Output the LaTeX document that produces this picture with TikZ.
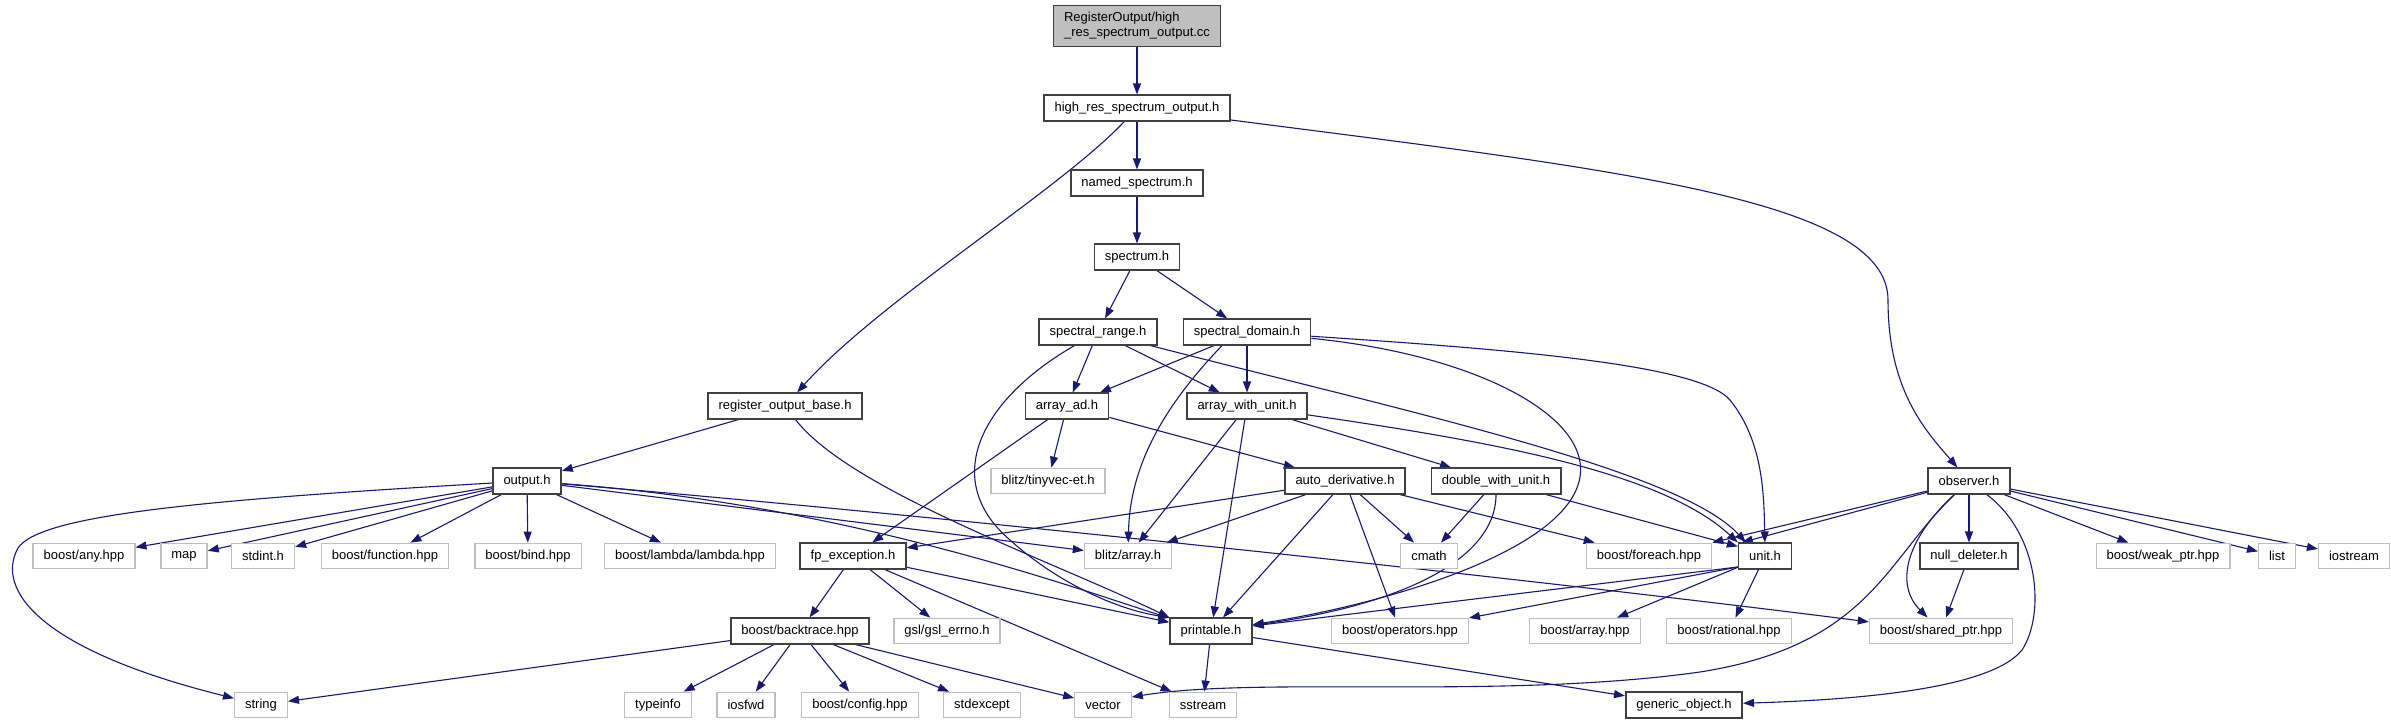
\documentclass[tikz,border=0pt]{standalone}
\usepackage{fontspec}
\setmainfont{Liberation Sans}
\usetikzlibrary{arrows.meta}
\definecolor{edgec}{HTML}{191970}
\definecolor{docb}{HTML}{404040}
\definecolor{extb}{HTML}{BFBFBF}
\definecolor{rootf}{HTML}{BFBFBF}
\pgfdeclarelayer{bg}
\pgfdeclarelayer{paper}
\pgfsetlayers{paper,bg,main}
\begin{document}
\begin{tikzpicture}[x=1pt,y=-1pt,
 basen/.style={rectangle, fill=white, font=\fontsize{13}{15}\selectfont, inner xsep=10.5pt, inner ysep=0pt, minimum height=25.5pt},
 doc/.style={basen, draw=docb, line width=1.6pt},
 ext/.style={basen, draw=extb, line width=1.3pt},
 rootn/.style={basen, draw=docb, line width=1.6pt, fill=rootf, align=left, minimum height=41pt},
 edg/.style={draw=edgec, line width=1.1pt, -{Triangle[length=11pt,width=8pt]}},
]
\useasboundingbox (0,0) rectangle (2391,724);
\begin{pgfonlayer}{paper}
\fill[white] (0,0) rectangle (2391,724);
\end{pgfonlayer}

\node[rootn] (root) at (1137,26) {RegisterOutput/high\\\_res\_spectrum\_output.cc};
\node[doc] (hr) at (1137,108) {high\_res\_spectrum\_output.h};
\node[doc] (ns) at (1137,183) {named\_spectrum.h};
\node[doc] (sp) at (1137,257) {spectrum.h};
\node[doc] (sr) at (1098,332) {spectral\_range.h};
\node[doc] (sd) at (1247,332) {spectral\_domain.h};
\node[doc] (rob) at (785,406) {register\_output\_base.h};
\node[doc] (aad) at (1067,406) {array\_ad.h};
\node[doc] (awu) at (1247,406) {array\_with\_unit.h};
\node[doc] (out) at (527,481) {output.h};
\node[ext] (tv) at (1048,481) {blitz/tinyvec-et.h};
\node[doc] (ad) at (1345,481) {auto\_derivative.h};
\node[doc] (dwu) at (1496,481) {double\_with\_unit.h};
\node[doc] (obs) at (1969,481) {observer.h};
\node[ext] (bany) at (84,556) {boost/any.hpp};
\node[ext] (map) at (184,556) {map};
\node[ext] (stdint) at (263,556) {stdint.h};
\node[ext] (bfun) at (385,556) {boost/function.hpp};
\node[ext] (bbind) at (528,556) {boost/bind.hpp};
\node[ext] (blam) at (690,556) {boost/lambda/lambda.hpp};
\node[doc] (fpe) at (853,556) {fp\_exception.h};
\node[ext] (barr) at (1128,556) {blitz/array.h};
\node[ext] (cmath) at (1429,556) {cmath};
\node[ext] (bfor) at (1649,556) {boost/foreach.hpp};
\node[doc] (unit) at (1765,556) {unit.h};
\node[doc] (nd) at (1969,556) {null\_deleter.h};
\node[ext] (bwp) at (2163,556) {boost/weak\_ptr.hpp};
\node[ext] (list) at (2277,556) {list};
\node[ext] (ios) at (2354,556) {iostream};
\node[doc] (bt) at (800,631) {boost/backtrace.hpp};
\node[ext] (gsl) at (947,631) {gsl/gsl\_errno.h};
\node[doc] (pr) at (1211,631) {printable.h};
\node[ext] (bop) at (1400,631) {boost/operators.hpp};
\node[ext] (bba) at (1585,631) {boost/array.hpp};
\node[ext] (brat) at (1729,631) {boost/rational.hpp};
\node[ext] (bsp) at (1941,631) {boost/shared\_ptr.hpp};
\node[ext] (str) at (261,705) {string};
\node[ext] (tinfo) at (658,705) {typeinfo};
\node[ext] (iosfwd) at (746,705) {iosfwd};
\node[ext] (bconf) at (860,705) {boost/config.hpp};
\node[ext] (stdexc) at (982,705) {stdexcept};
\node[ext] (vec) at (1103,705) {vector};
\node[ext] (sstr) at (1203,705) {sstream};
\node[doc] (go) at (1684,705) {generic\_object.h};

\begin{pgfonlayer}{bg}
\draw[edg] (root) -- (hr);
\draw[edg] (hr) -- (ns);
\draw[edg] (hr) .. controls (1060,190) and (880,300) .. (rob);
\draw[edg] (hr) .. controls (1620,170) and (1888,200) .. (1888,300) .. controls (1888,390) and (1925,430) .. (obs);
\draw[edg] (ns) -- (sp);
\draw[edg] (sp) -- (sr);
\draw[edg] (sp) -- (sd);
\draw[edg] (sr) -- (aad);
\draw[edg] (sr) -- (awu);
\draw[edg] (sr) .. controls (980,400) and (940,480) .. (1010,540) .. controls (1060,585) and (1120,610) .. (pr.north west);
\draw[edg] (sr) .. controls (1400,410) and (1680,470) .. ([xshift=8pt]unit.north west);
\draw[edg] (sd) -- (aad);
\draw[edg] (sd) -- (awu);
\draw[edg] ([xshift=-25pt]sd.south) .. controls (1170,400) and (1130,460) .. (barr);
\draw[edg] (sd) .. controls (1480,355) and (1600,420) .. (1578,485) .. controls (1555,555) and (1380,605) .. (pr);
\draw[edg] (sd) .. controls (1520,350) and (1700,365) .. (1730,400) .. controls (1762,440) and (1764,490) .. (unit);
\draw[edg] (rob) -- (out);
\draw[edg] (rob) .. controls (850,490) and (1050,560) .. (pr.north west);
\draw[edg] (aad) -- (tv);
\draw[edg] (aad) -- (fpe);
\draw[edg] (aad) -- (ad);
\draw[edg] (awu) -- (barr);
\draw[edg] (awu) -- (pr);
\draw[edg] (awu) -- (dwu);
\draw[edg] (awu) .. controls (1480,440) and (1660,470) .. (unit.north west);
\draw[edg] (out) .. controls (200,500) and (40,515) .. (18,548) .. controls (-5,590) and (40,650) .. (str);
\draw[edg] (out) -- (bany);
\draw[edg] (out) -- (map);
\draw[edg] (out) -- (stdint);
\draw[edg] (out) -- (bfun);
\draw[edg] (out) -- (bbind);
\draw[edg] (out) -- (blam);
\draw[edg] (out) -- (barr);
\draw[edg] (out) .. controls (850,505) and (1080,590) .. (pr);
\draw[edg] (out) .. controls (900,512) and (1500,575) .. (bsp);
\draw[edg] (ad) -- (fpe);
\draw[edg] (ad) -- (barr);
\draw[edg] (ad) -- (pr);
\draw[edg] (ad) -- (bop);
\draw[edg] (ad) -- (cmath);
\draw[edg] (ad) -- (bfor);
\draw[edg] (dwu) -- (cmath);
\draw[edg] (dwu) -- ([yshift=-4pt]unit.north west);
\draw[edg] (dwu) .. controls (1496,560) and (1400,605) .. (pr);
\draw[edg] (fpe) -- (bt);
\draw[edg] (fpe) -- (gsl);
\draw[edg] (fpe) -- (pr);
\draw[edg] (fpe) -- (sstr);
\draw[edg] (bt) -- (str);
\draw[edg] (bt) -- (tinfo);
\draw[edg] (bt) -- (iosfwd);
\draw[edg] (bt) -- (bconf);
\draw[edg] (bt) -- (stdexc);
\draw[edg] (bt) -- (vec);
\draw[edg] (pr) -- (sstr);
\draw[edg] (pr) -- (go);
\draw[edg] ([yshift=-11pt]unit.west) -- (pr);
\draw[edg] ([yshift=-11pt]unit.west) -- (bop);
\draw[edg] (unit) -- (bba);
\draw[edg] (unit) -- (brat);
\draw[edg] (obs) -- ([xshift=4pt]unit.north west);
\draw[edg] (obs) -- (bfor.north east);
\draw[edg] (obs) -- (nd);
\draw[edg] (obs) -- (bwp);
\draw[edg] (obs) -- (list);
\draw[edg] (obs) -- (ios);
\draw[edg] (obs) .. controls (1885,560) and (1870,645) .. (1700,672) .. controls (1500,700) and (1260,676) .. ([yshift=8pt]vec.east);
\draw[edg] (obs) .. controls (1905,540) and (1895,585) .. (bsp);
\draw[edg] (obs) .. controls (2040,535) and (2045,615) .. (2022,650) .. controls (1990,690) and (1850,700) .. (go);
\draw[edg] (nd) -- (bsp);
\end{pgfonlayer}
\end{tikzpicture}
\end{document}
